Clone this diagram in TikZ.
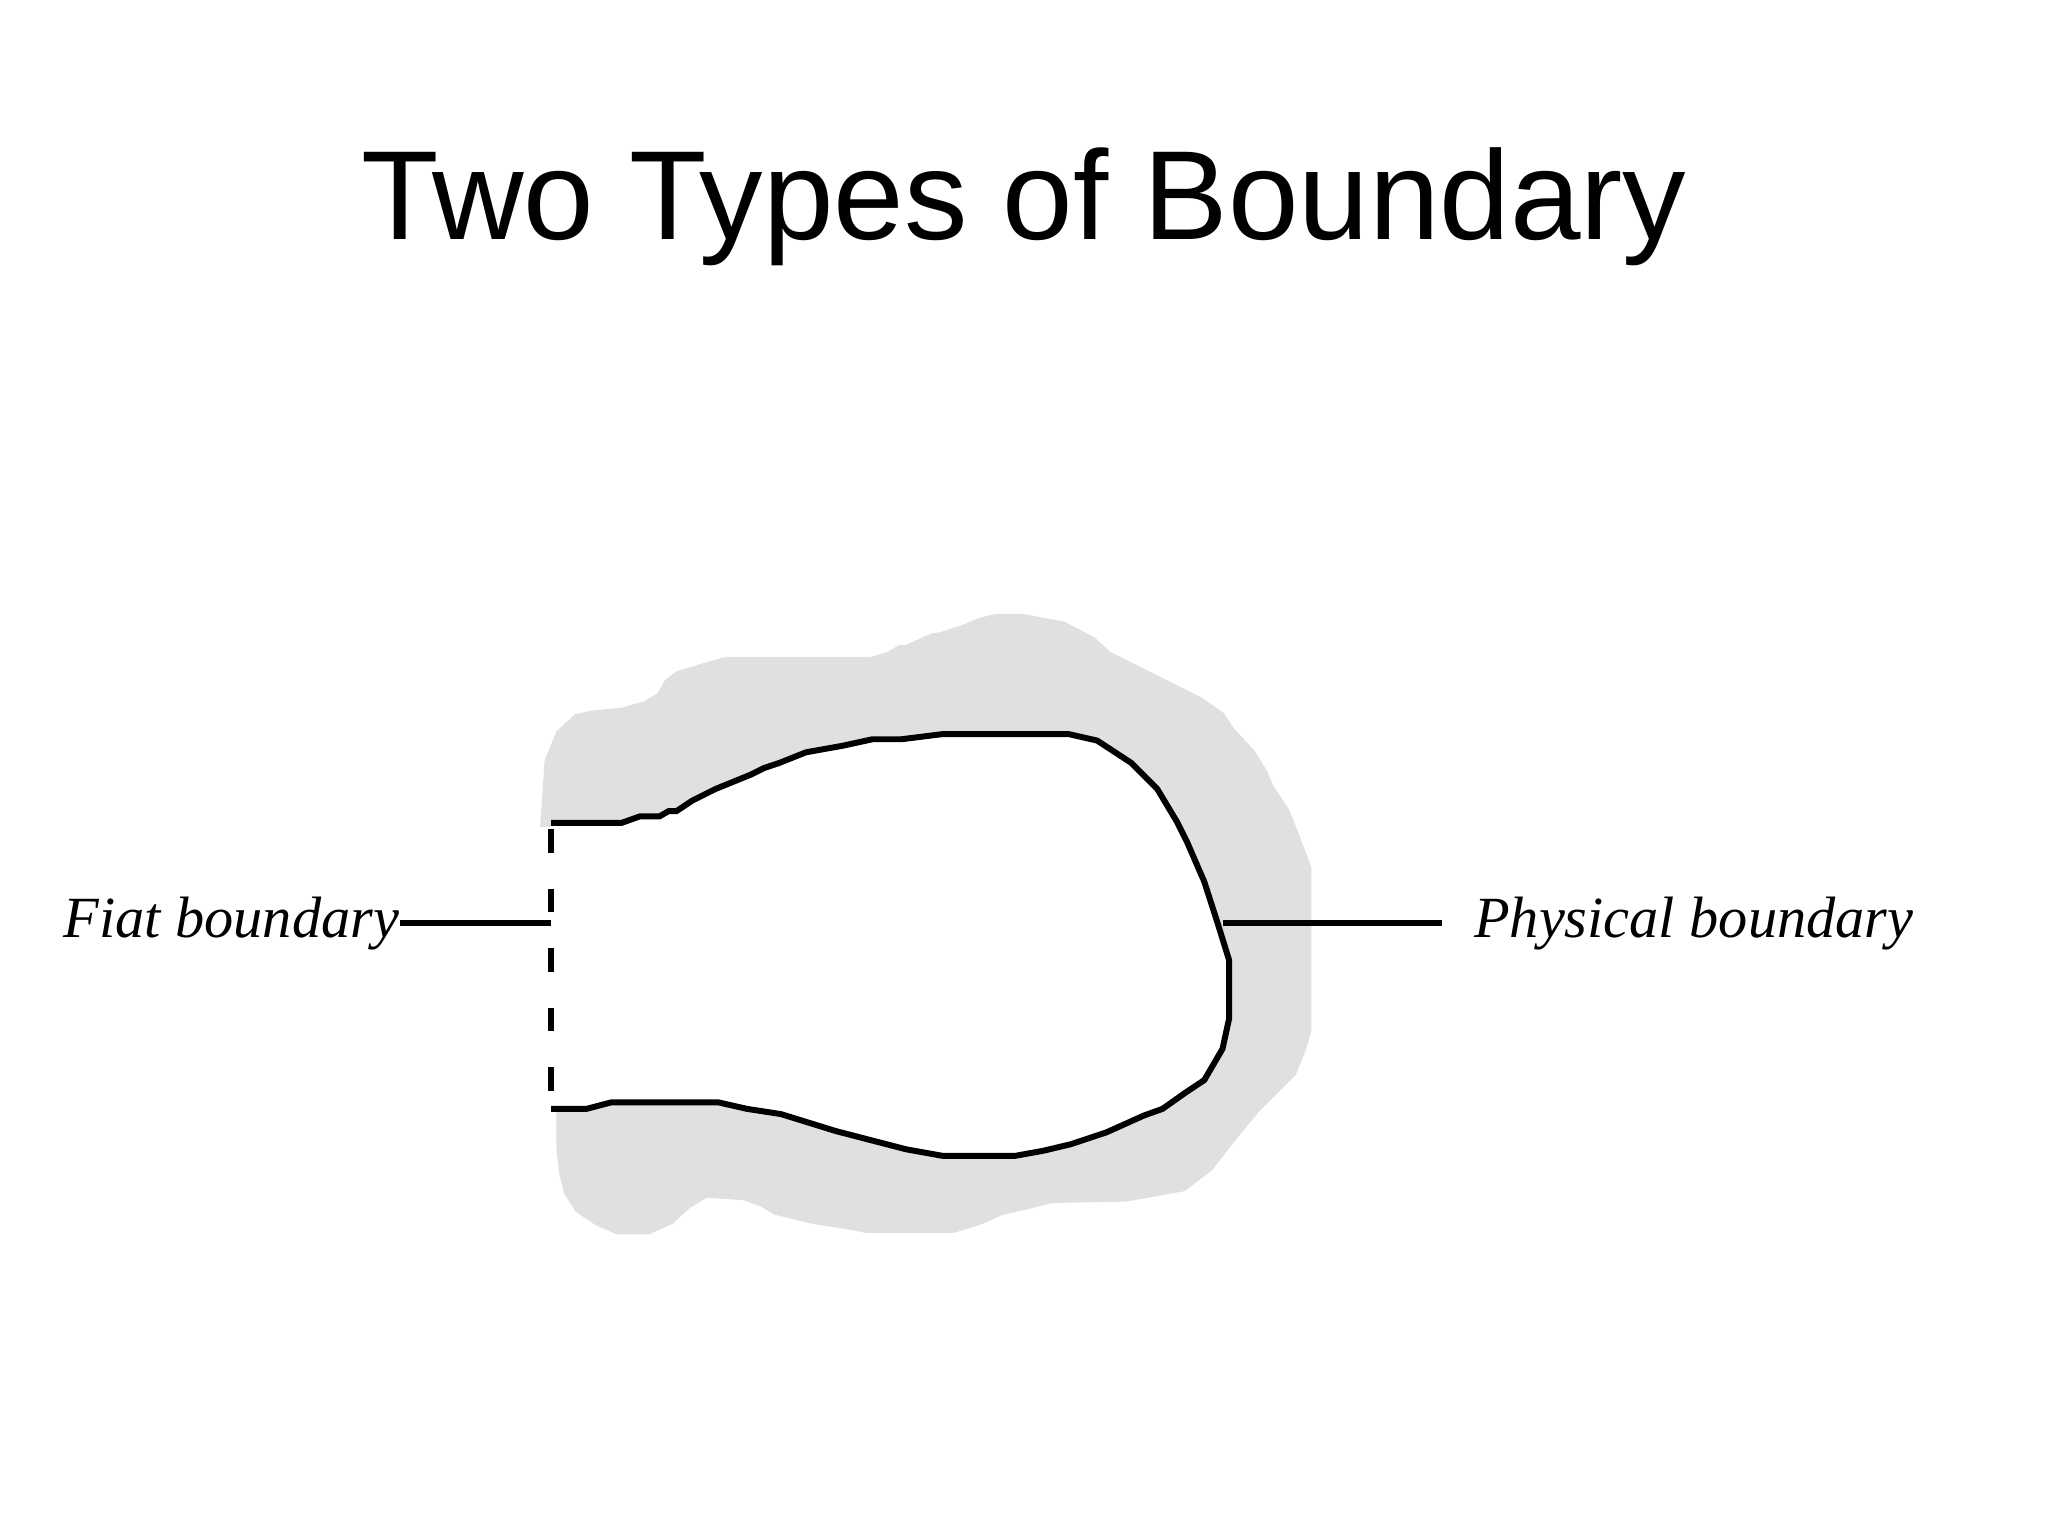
\documentclass[tikz,border=0pt]{standalone}
\usepackage{fontspec}
\setmainfont{Liberation Serif}
\newfontfamily\titlefont{Liberation Sans}
\usepackage{xcolor}
\definecolor{blobgray}{RGB}{224,224,224}

\begin{document}
\begin{tikzpicture}[x=0.01cm,y=-0.01cm,
  boundary/.style={black,line width=1.3pt,line join=miter},
  leader/.style={black,line width=1.3pt},
  tagtext/.style={inner sep=0pt,font=\fontsize{12.7}{15}\selectfont\itshape}]
\useasboundingbox (0,0) rectangle (1568,1176);
\node[anchor=base,inner sep=0pt,font=\titlefont\fontsize{27.6}{33}\selectfont] (title) at (784,183) {Two Types of Boundary};
\fill[blobgray] (413.5,633) -- (417,582) -- (426,560) -- (440,547) -- (453,544) -- (475,542)
  -- (493,537) -- (503,531) -- (509,521) -- (518,514) -- (541,507) -- (555,503) -- (667,503)
  -- (680,499) -- (688,494) -- (693,494) -- (713,485) -- (720,484) -- (738,478) -- (750,473)
  -- (762,470) -- (783,470) -- (815,476) -- (838,488) -- (850,499) -- (920,534) -- (937,546)
  -- (945,558) -- (960,574) -- (970,590) -- (975,602) -- (987,620) -- (995,640) -- (1004,664)
  -- (1004,790) -- (999,806) -- (992,823) -- (964,851) -- (945,874) -- (928,896) -- (907,912)
  -- (862,920) -- (806,921) -- (790,925) -- (768,930) -- (750,938) -- (730,944) -- (663,944)
  -- (648,941) -- (622,937) -- (593,930) -- (583,924) -- (570,919) -- (541,917) -- (528,925)
  -- (515,937) -- (497,945) -- (472,945) -- (456,938) -- (441,928) -- (432,914) -- (428,898)
  -- (426,880) -- (426,849) -- (422,849) -- (422,633) -- cycle;
\fill[white] (422,630) -- (476,630) -- (490,625) -- (505,625) -- (512,621) -- (518,621)
  -- (530,613) -- (548,604) -- (575,593) -- (585,588) -- (597,584) -- (617,576) -- (645,571)
  -- (668,566) -- (690,566) -- (722,562) -- (818,562) -- (840,567) -- (866,584) -- (886,604)
  -- (901,629) -- (909,645) -- (922,675) -- (932,706) -- (941,735) -- (941,780) -- (936,803)
  -- (922,827) -- (907,837) -- (890,849) -- (876,854) -- (847,867) -- (820,876) -- (799,881)
  -- (777,885) -- (722,885) -- (694,880) -- (640,866) -- (598,853) -- (572,849) -- (550,844)
  -- (468,844) -- (449,849) -- (422,849) -- cycle;
\draw[boundary] (422,630) -- (476,630) -- (490,625) -- (505,625) -- (512,621) -- (518,621)
  -- (530,613) -- (548,604) -- (575,593) -- (585,588) -- (597,584) -- (617,576) -- (645,571)
  -- (668,566) -- (690,566) -- (722,562) -- (818,562) -- (840,567) -- (866,584) -- (886,604)
  -- (901,629) -- (909,645) -- (922,675) -- (932,706) -- (941,735) -- (941,780) -- (936,803)
  -- (922,827) -- (907,837) -- (890,849) -- (876,854) -- (847,867) -- (820,876) -- (799,881)
  -- (777,885) -- (722,885) -- (694,880) -- (640,866) -- (598,853) -- (572,849) -- (550,844)
  -- (468,844) -- (449,849) -- (422,849);
\draw[boundary,dash pattern=on 0.18cm off 0.275cm] (422,635) -- (422,849);
\coordinate (fiatpt) at (422,707);
\coordinate (physpt) at (936,707);
\node[tagtext,anchor=base west] (fiat) at (48,718) {Fiat boundary};
\node[tagtext,anchor=base west] (phys) at (1128,718) {Physical boundary};
\draw[leader] (fiat.east |- fiatpt) -- (fiatpt);
\draw[leader,shorten <=0.24cm] (phys.west |- physpt) -- (physpt);
\end{tikzpicture}
\end{document}
